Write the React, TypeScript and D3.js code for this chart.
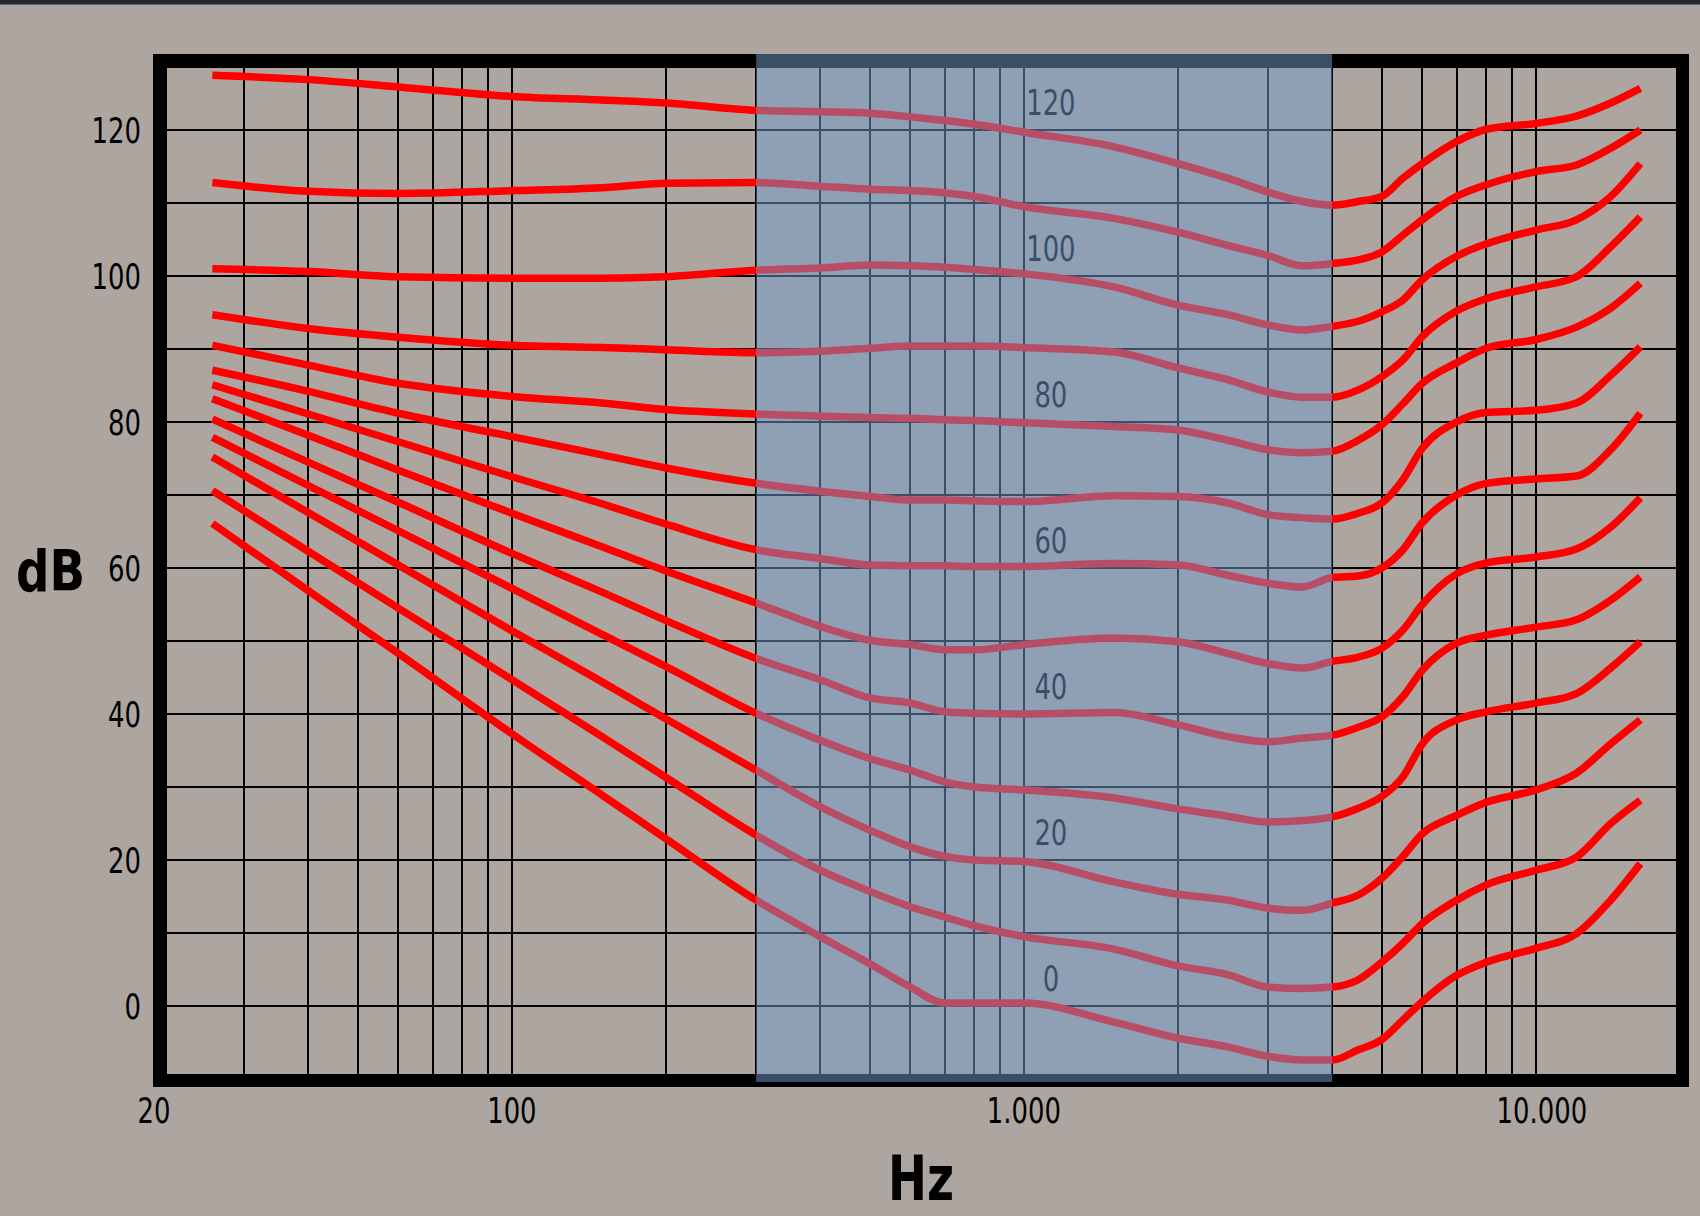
import React from 'react';
import * as d3 from 'd3';

// sample frequencies (Hz) shared by every curve
const freqs = [26, 40, 60, 100, 150, 200, 300, 400, 500, 600, 700, 800, 1000, 1500, 2000, 2500, 3000, 3500, 4000, 4500, 5000, 5500, 6000, 7000, 8000, 10000, 12000, 14000, 16000];

// sound pressure level (dB) for each equal-loudness curve (phon)
const phon120 = [127.5, 126.9, 125.9, 124.6, 124.1, 123.7, 122.7, 122.5, 122.3, 121.8, 121.3, 120.8, 119.7, 117.7, 115.4, 113.4, 111.5, 110.2, 109.7, 110.2, 110.9, 113.4, 115.4, 118.4, 120.1, 120.9, 121.9, 123.7, 125.7];
const phon110 = [112.8, 111.6, 111.3, 111.7, 112.1, 112.7, 112.8, 112.3, 111.9, 111.7, 111.4, 110.9, 109.5, 107.9, 106.0, 104.2, 102.8, 101.4, 101.7, 102.2, 103.3, 105.6, 107.7, 110.9, 112.5, 114.3, 115.2, 117.5, 120.0];
const phon100 = [101.0, 100.6, 99.9, 99.7, 99.7, 99.9, 100.8, 101.1, 101.5, 101.4, 101.2, 100.9, 100.3, 98.5, 96.0, 94.7, 93.3, 92.6, 93.1, 93.8, 95.1, 96.7, 99.5, 102.7, 104.4, 106.3, 107.7, 110.9, 115.4];
const phon90 = [94.7, 92.8, 91.6, 90.5, 90.2, 89.9, 89.5, 89.7, 90.1, 90.4, 90.4, 90.4, 90.2, 89.6, 87.4, 85.8, 84.1, 83.4, 83.4, 84.4, 86.2, 88.5, 91.7, 95.2, 96.9, 98.5, 99.9, 104.0, 108.1];
const phon80 = [90.5, 87.8, 85.3, 83.5, 82.6, 81.7, 81.1, 80.8, 80.6, 80.5, 80.3, 80.2, 79.9, 79.4, 78.9, 77.5, 76.2, 75.8, 76.0, 77.5, 79.6, 82.5, 85.3, 88.1, 90.1, 91.3, 93.0, 95.6, 99.0];
const phon70 = [87.1, 84.2, 81.2, 78.0, 75.5, 73.7, 71.6, 70.5, 69.8, 69.3, 69.3, 69.2, 69.1, 69.9, 69.8, 68.9, 67.3, 66.9, 66.7, 67.5, 68.9, 72.1, 76.4, 80.0, 81.3, 81.6, 82.6, 86.4, 90.3];
const phon60 = [85.1, 81.1, 77.3, 72.5, 68.8, 66.0, 62.5, 61.3, 60.4, 60.3, 60.3, 60.2, 60.2, 60.6, 60.4, 59.0, 57.9, 57.4, 58.7, 58.9, 60.0, 62.5, 66.2, 70.0, 71.6, 72.2, 72.6, 76.2, 81.2];
const phon50 = [83.2, 78.2, 73.4, 67.5, 62.9, 59.6, 55.2, 52.0, 50.1, 49.5, 48.8, 48.8, 49.5, 50.4, 49.9, 48.3, 46.9, 46.3, 47.2, 47.8, 49.0, 51.5, 55.0, 59.2, 60.7, 61.5, 62.6, 65.6, 69.6];
const phon40 = [80.4, 74.5, 69.0, 62.0, 56.7, 52.8, 47.6, 44.7, 42.2, 41.5, 40.3, 40.1, 40.0, 40.2, 38.5, 36.9, 36.2, 36.7, 37.1, 38.2, 39.6, 42.4, 46.0, 49.7, 50.8, 51.9, 52.9, 55.6, 58.8];
const phon30 = [77.9, 71.3, 65.1, 57.2, 50.9, 46.5, 40.1, 36.4, 33.9, 32.3, 30.7, 30.0, 29.6, 28.5, 27.0, 26.0, 25.2, 25.4, 25.9, 27.1, 28.7, 31.4, 35.9, 39.2, 40.3, 41.5, 42.8, 46.3, 49.9];
const phon20 = [75.2, 67.6, 60.4, 51.4, 44.4, 39.3, 32.3, 27.3, 24.1, 21.8, 20.5, 20.0, 19.8, 17.0, 15.3, 14.5, 13.4, 13.1, 14.1, 15.2, 17.5, 20.5, 23.6, 26.1, 27.9, 29.6, 31.9, 35.9, 39.2];
const phon10 = [70.6, 62.3, 54.5, 44.7, 36.9, 31.3, 23.4, 18.6, 15.7, 13.6, 12.2, 11.0, 9.5, 7.8, 5.5, 4.3, 2.6, 2.4, 2.6, 3.6, 6.0, 8.6, 11.3, 14.5, 16.6, 18.6, 20.4, 25.0, 28.2];
const phon0 = [66.1, 56.9, 48.3, 37.3, 28.9, 22.9, 14.5, 9.5, 5.8, 2.6, 0.4, 0.4, 0.4, -2.2, -4.4, -5.6, -6.9, -7.4, -7.4, -6.0, -4.6, -1.9, 0.6, 4.2, 6.0, 7.9, 9.9, 14.5, 19.5];

const curves = [phon120, phon110, phon100, phon90, phon80, phon70, phon60, phon50, phon40, phon30, phon20, phon10, phon0];

const curveLabels = [120, 100, 80, 60, 40, 20, 0];
const yTicks = [0, 20, 40, 60, 80, 100, 120];
const xTicks = [20, 100, 1000, 10000];
const xTickLabels = ['20', '100', '1.000', '10.000'];
const xGrid = [30, 40, 50, 60, 70, 80, 90, 100, 200, 300, 400, 500, 600, 700, 800, 900, 1000, 2000, 3000, 4000, 5000, 6000, 7000, 8000, 9000, 10000];
const yGrid = [0, 10, 20, 30, 40, 50, 60, 70, 80, 90, 100, 110, 120];
const band = [300, 4000];

const W = 1700;
const H = 1216;
const frame = { x0: 153, x1: 1689, y0: 54, y1: 1087, t: 13.5 };
const inner = { x0: frame.x0 + frame.t, x1: frame.x1 - frame.t, y0: frame.y0 + frame.t, y1: frame.y1 - frame.t };

const BG = '#ada6a0';
const FONT = 'DejaVu Sans, Verdana, sans-serif';

export default function App() {
  const x = d3.scaleLog().domain([20, 20000]).range([154, 1690]);
  const y = d3.scaleLinear().domain([0, 120]).range([1006, 130]);

  const line = d3
    .line<number>()
    .x((_, i) => x(freqs[i]))
    .y((d) => y(d))
    .curve(d3.curveMonotoneX);

  const narrow = (tx: number, ty: number, sx: number) => `translate(${tx},${ty}) scale(${sx},1)`;

  return (
    <svg width={W} height={H} style={{ position: 'absolute', left: 0, top: 0, display: 'block' }}>
      <rect x={0} y={0} width={W} height={H} fill={BG} />
      <rect x={0} y={0} width={W} height={4} fill="#25272d" />
      <rect x={0} y={4} width={W} height={1} fill="#56647a" />

      {/* grid */}
      <g stroke="#000" strokeWidth={2} shapeRendering="crispEdges">
        {yGrid.map((v) => (
          <line key={'h' + v} x1={inner.x0} x2={inner.x1} y1={Math.round(y(v))} y2={Math.round(y(v))} />
        ))}
        {xGrid.map((v) => (
          <line key={'v' + v} x1={Math.round(x(v))} x2={Math.round(x(v))} y1={inner.y0} y2={inner.y1} />
        ))}
      </g>

      {/* frame */}
      <rect
        x={frame.x0 + frame.t / 2}
        y={frame.y0 + frame.t / 2}
        width={frame.x1 - frame.x0 - frame.t}
        height={frame.y1 - frame.y0 - frame.t}
        fill="none"
        stroke="#000"
        strokeWidth={frame.t}
        shapeRendering="crispEdges"
      />

      {/* equal loudness curves */}
      <g fill="none" stroke="#ff0000" strokeWidth={7.5} strokeLinejoin="round">
        {curves.map((c, i) => (
          <path key={i} d={line(c) || ''} />
        ))}
      </g>

      {/* phon labels */}
      <g fill="#000" fontFamily={FONT} fontSize={36}>
        {curveLabels.map((p) => (
          <text key={p} transform={narrow(x(1000) + 27, y(p) - 15, 0.72)} textAnchor="middle">
            {p}
          </text>
        ))}
      </g>

      {/* highlighted band */}
      <rect
        x={x(band[0])}
        y={frame.y0}
        width={x(band[1]) - x(band[0])}
        height={frame.y1 - 5 - frame.y0}
        fill="#7299c8"
        fillOpacity={0.51}
      />

      {/* axis tick labels */}
      <g fill="#000" fontFamily={FONT} fontSize={36}>
        {yTicks.map((v) => (
          <text key={'y' + v} transform={narrow(141, y(v) + 13, 0.72)} textAnchor="end">
            {v}
          </text>
        ))}
        {xTicks.map((v, i) => (
          <text key={'x' + v} transform={narrow(x(v) + (i === 3 ? 6 : 0), 1123, 0.72)} textAnchor="middle">
            {xTickLabels[i]}
          </text>
        ))}
      </g>

      {/* axis titles */}
      <text transform={narrow(16, 591, 0.82)} fontFamily={FONT} fontWeight="bold" fontSize={57} fill="#000">
        dB
      </text>
      <text transform={narrow(921, 1200, 0.75)} fontFamily={FONT} fontWeight="bold" fontSize={62} fill="#000" textAnchor="middle">
        Hz
      </text>
    </svg>
  );
}
